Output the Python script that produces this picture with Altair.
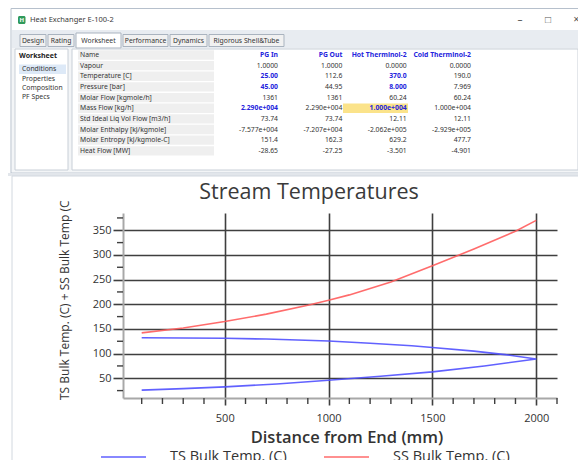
import altair as alt
import pandas as pd

# ---------------- chart data ----------------
series = ["TS Bulk Temp. (C)", "SS Bulk Temp. (C)"]
series_colors = ["#5050ff", "#ff5c5c"]

ts_out_dist = [100, 300, 500, 750, 1000, 1250, 1500, 1750, 2000]
ts_out_temp = [26, 29, 32.5, 38.5, 46, 54, 63, 75, 89]
ts_back_dist = [2000, 1850, 1700, 1500, 1400, 1200, 1000, 700, 500, 300, 100]
ts_back_temp = [89, 98, 105, 112.5, 116, 121, 125.5, 129.5, 131, 131.7, 132]
ss_dist = [100, 300, 500, 700, 900, 1000, 1100, 1300, 1500, 1700, 1900, 2000]
ss_temp = [142, 152, 165, 180, 198, 208, 219, 245, 278, 312, 348, 370]

x_major = [500, 1000, 1500, 2000]
x_minor = [100, 200, 300, 400, 600, 700, 800, 900, 1100, 1200, 1300, 1400,
           1600, 1700, 1800, 1900, 2100]
y_major = [50, 100, 150, 200, 250, 300, 350]
y_minor = [25, 75, 125, 175, 225, 275, 325, 375]

chart_title = "Stream Temperatures"
x_title = "Distance from End (mm)"
y_title = "TS Bulk Temp. (C) + SS Bulk Temp (C"

# ---------------- worksheet (table) data ----------------
window_title = "Heat Exchanger E-100-2"
tabs = ["Design", "Rating", "Worksheet", "Performance", "Dynamics", "Rigorous Shell&Tube"]
nav_header = "Worksheet"
nav_items = ["Conditions", "Properties", "Composition", "PF Specs"]
streams = ["PG In", "PG Out", "Hot Therminol-2", "Cold Therminol-2"]
props = ["Vapour", "Temperature [C]", "Pressure [bar]", "Molar Flow [kgmole/h]",
         "Mass Flow [kg/h]", "Std Ideal Liq Vol Flow [m3/h]", "Molar Enthalpy [kJ/kgmole]",
         "Molar Entropy [kJ/kgmole-C]", "Heat Flow [MW]"]
pg_in = ["1.0000", "25.00", "45.00", "1361", "2.290e+004", "73.74", "-7.577e+004", "151.4", "-28.65"]
pg_out = ["1.0000", "112.6", "44.95", "1361", "2.290e+004", "73.74", "-7.207e+004", "162.3", "-27.25"]
hot_th = ["0.0000", "370.0", "8.000", "60.24", "1.000e+004", "12.11", "-2.062e+005", "629.2", "-3.501"]
cold_th = ["0.0000", "190.0", "7.969", "60.24", "1.000e+004", "12.11", "-2.929e+005", "477.7", "-4.901"]
specified = {"PG In": ["Temperature [C]", "Pressure [bar]", "Mass Flow [kg/h]"],
             "Hot Therminol-2": ["Temperature [C]", "Pressure [bar]", "Mass Flow [kg/h]"]}
highlight_prop = "Mass Flow [kg/h]"

# ---------------- layout (page pixels) ----------------
OX, OY = 123, 213          # plot-area origin on the page
PW, PH = 434, 185          # plot-area size
FONT = "Open Sans"
SMALL = "Noto Sans"


def gx(p):
    return p - OX


def gy(p):
    return p - OY


ONE = alt.Data(values=[{"k": 0}])


def box(x1, y1, x2, y2, fill, stroke="transparent", sw=1, r=0):
    return alt.Chart(ONE).mark_rect(fill=fill, stroke=stroke, strokeWidth=sw, cornerRadius=r).encode(
        x=alt.value(gx(x1)), x2=alt.value(gx(x2)), y=alt.value(gy(y1)), y2=alt.value(gy(y2)))


def label(x, y, s, size=7, color="#333333", weight="normal", align="left", font=SMALL, angle=0):
    return alt.Chart(ONE).mark_text(text=s, fontSize=size, color=color, fontWeight=weight,
                                    align=align, baseline="middle", font=font, angle=angle).encode(
        x=alt.value(gx(x)), y=alt.value(gy(y)))


# ---------------- window chrome ----------------
tab_pos = [(20, 46), (48, 74), (76, 121), (123, 168), (170, 207), (209, 284)]
chrome = [
    box(11, 8.5, 581, 173, "#ffffff", "#b6c0cc"),
    box(12, 30, 580, 48, "#e8ecf1"),
    box(12, 48, 580, 172, "#f3f5f7"),
    box(8, 173, 586, 176, "#e2e6eb"),
    box(12, 176, 581, 480, "transparent", "#d2d8df"),
    box(18, 16, 25.5, 24, "#2f9a5b", r=1.5),
    label(21.8, 20.2, "H", size=6, color="#ffffff", weight="bold", align="center"),
    label(30, 20, window_title, size=7.5, color="#3a3a3a"),
    label(520, 20, "\u2013", size=10, color="#555555", align="center"),
    label(548, 20, "\u25a1", size=10, color="#555555", align="center"),
    label(576, 20, "\u2715", size=8, color="#555555", align="center"),
]
for name, (a, b) in zip(tabs, tab_pos):
    active = name == "Worksheet"
    chrome.append(box(a, 33 if active else 34.5, b, 48 if active else 46.5,
                      "#ffffff" if active else "#f1f1f1", "#a9b3bf"))
    chrome.append(label((a + b) / 2, 40.5, name, size=6.8, color="#333333", align="center"))
chrome += [
    box(15, 49, 68, 170, "#ffffff", "#c8cfd7"),
    box(19, 64.5, 66, 74, "#dde9f7"),
    label(19, 55.5, nav_header, size=7, color="#222222", weight="bold"),
]
for item, yy in zip(nav_items, [69.3, 78.5, 87.8, 97]):
    chrome.append(label(22, yy, item, size=6.8, color="#333333"))
chrome.append(box(72, 49, 578, 170, "#ffffff", "#c8cfd7"))

# ---------------- worksheet table through scales ----------------
rows = ["Name"] + props
row_scale = alt.Scale(type="band", domain=rows, range=[gy(50.3), gy(155.5)],
                      paddingInner=0.12, paddingOuter=0)
col_scale = alt.Scale(type="point", domain=streams, range=[gx(278), gx(471)], padding=0)

cells = []
for s, vals in zip(streams, [pg_in, pg_out, hot_th, cold_th]):
    cells.append({"prop": "Name", "stream": s, "val": s, "spec": True})
    for p, v in zip(props, vals):
        cells.append({"prop": p, "stream": s, "val": v, "spec": p in specified.get(s, [])})
cells_df = pd.DataFrame(cells)
label_df = pd.DataFrame({"prop": rows})
hl_df = pd.DataFrame({"prop": [highlight_prop]})

yrow = alt.Y("prop:N", scale=row_scale, axis=None)
table = alt.layer(
    alt.Chart(label_df).mark_rect(fill="#efefef").encode(
        x=alt.value(gx(78)), x2=alt.value(gx(214)), y=yrow),
    alt.Chart(hl_df).mark_rect(fill="#fbe38a").encode(
        x=alt.value(gx(343)), x2=alt.value(gx(408)), y=yrow),
    alt.Chart(label_df).mark_text(align="left", baseline="middle", fontSize=6.8, font=SMALL,
                                  color="#333333").encode(
        x=alt.value(gx(80)), y=yrow, text="prop:N"),
    alt.Chart(cells_df[~cells_df.spec]).mark_text(align="right", baseline="middle", fontSize=6.8,
                                                  font=SMALL, color="#333333").encode(
        x=alt.X("stream:N", scale=col_scale, axis=None), y=yrow, text="val:N"),
    alt.Chart(cells_df[cells_df.spec]).mark_text(align="right", baseline="middle", fontSize=6.8,
                                                 font=SMALL, fontWeight="bold", color="#2424dd").encode(
        x=alt.X("stream:N", scale=col_scale, axis=None), y=yrow, text="val:N"),
)

# ---------------- line chart ----------------
recs = []
seq = 0
for d, t in zip(ts_out_dist + ts_back_dist, ts_out_temp + ts_back_temp):
    recs.append({"series": series[0], "dist": d, "temp": t, "seq": seq})
    seq += 1
for d, t in zip(ss_dist, ss_temp):
    recs.append({"series": series[1], "dist": d, "temp": t, "seq": seq})
    seq += 1
line_df = pd.DataFrame(recs)

xs = alt.Scale(domain=[10, 2100], nice=False, zero=False)
ys = alt.Scale(domain=[10, 385], nice=False, zero=False)
GRID = "#3f3f3f"

x_axis = alt.Axis(values=x_major, format="d", grid=True, gridColor=GRID, gridWidth=1.6, ticks=True,
                  tickColor=GRID, tickWidth=1.6, tickSize=7, domainColor="#a8a8a8", domainWidth=2,
                  labelFont=FONT, labelFontSize=11, labelColor="#333333", labelPadding=7,
                  labelOverlap=False, labelFlush=False, title=None)
y_axis = alt.Axis(values=y_major, format="d", grid=True, gridColor=GRID, gridWidth=1.6, ticks=True,
                  tickColor=GRID, tickWidth=1.6, tickSize=10, domainColor="#a8a8a8", domainWidth=2,
                  labelFont=FONT, labelFontSize=11, labelColor="#333333", labelPadding=2,
                  labelOverlap=False, labelFlush=False, labelBound=False, title=None)

lines = alt.Chart(line_df).mark_line(strokeWidth=1.6, opacity=0.9).encode(
    x=alt.X("dist:Q", scale=xs, axis=x_axis),
    y=alt.Y("temp:Q", scale=ys, axis=y_axis),
    color=alt.Color("series:N", scale=alt.Scale(domain=series, range=series_colors),
                    legend=alt.Legend(orient="none", legendX=gx(100), legendY=gy(456) - 22.5,
                                      direction="horizontal", title=None, symbolType="stroke",
                                      symbolSize=2025, symbolStrokeWidth=1.6, labelFont=FONT,
                                      labelFontSize=14.5, labelColor="#333333", labelOffset=23,
                                      columnPadding=33, labelLimit=300)),
    order="seq:Q",
)
minor_x = alt.Chart(pd.DataFrame({"dist": x_minor})).mark_rule(color=GRID, strokeWidth=1.4).encode(
    x=alt.X("dist:Q", scale=xs, axis=None), y=alt.value(PH), y2=alt.value(PH + 6))
minor_y = alt.Chart(pd.DataFrame({"temp": y_minor})).mark_rule(color=GRID, strokeWidth=1.4).encode(
    y=alt.Y("temp:Q", scale=ys, axis=None), x=alt.value(-6), x2=alt.value(0))

minor = alt.layer(minor_x, minor_y)

titles = [
    label(309, 193, chart_title, size=21.5, color="#3a3a3a", align="center", font=FONT),
    label(347, 437.5, x_title, size=16.5, color="#333333", weight=600, align="center", font=FONT),
    label(65, 400, y_title, size=12, color="#333333", align="left", font=FONT, angle=270),
]

chart = alt.layer(*chrome, table, minor, lines, *titles).resolve_scale(
    x="independent", y="independent"
).properties(
    width=PW, height=PH,
    padding={"left": OX - 8, "top": OY - 8, "right": 586 - 8 - 8 - OX - PW + 8, "bottom": 452 - (OY - 8) - PH},
    autosize=alt.AutoSizeParams(type="none"),
    background="#ffffff",
).configure_view(strokeOpacity=0)

chart.save("out.html", embed_options={"renderer": "svg", "actions": False})
